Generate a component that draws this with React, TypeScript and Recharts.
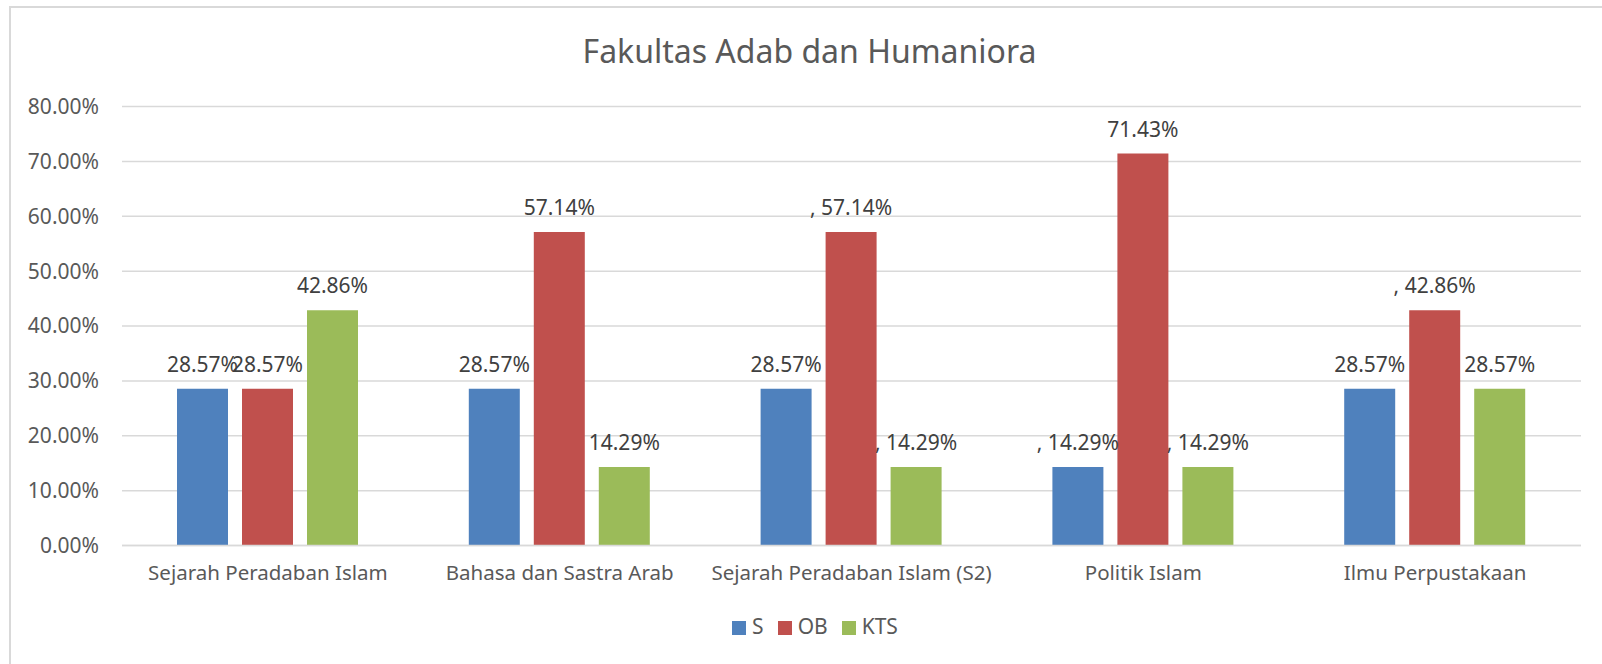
import React from 'react';
import { BarChart, Bar, XAxis, YAxis, CartesianGrid, Legend, LabelList } from 'recharts';

const categories = [
    'Sejarah Peradaban Islam',
    'Bahasa dan Sastra Arab',
    'Sejarah Peradaban Islam (S2)',
    'Politik Islam',
    'Ilmu Perpustakaan',
];

const sValues = [0.2857, 0.2857, 0.2857, 0.1429, 0.2857];
const obValues = [0.2857, 0.5714, 0.5714, 0.7143, 0.4286];
const ktsValues = [0.4286, 0.1429, 0.1429, 0.1429, 0.2857];

// data labels as shown in the original (some carry a stray ", " prefix)
const sLabels = ['28.57%', '28.57%', '28.57%', ', 14.29%', '28.57%'];
const obLabels = ['28.57%', '57.14%', ', 57.14%', '71.43%', ', 42.86%'];
const ktsLabels = ['42.86%', '14.29%', ', 14.29%', ', 14.29%', '28.57%'];

const seriesOrder = ['S', 'OB', 'KTS'];
const yTicks = [0, 0.1, 0.2, 0.3, 0.4, 0.5, 0.6, 0.7, 0.8];
const edgeTicks = [0, 1, 2, 3, 4, 5];

const data = categories.map((name, i) => ({
    name,
    S: sValues[i],
    OB: obValues[i],
    KTS: ktsValues[i],
    sLabel: sLabels[i],
    obLabel: obLabels[i],
    ktsLabel: ktsLabels[i],
    edge: i,
}));

const FONT = '"Noto Sans", "Open Sans", sans-serif';
const GRID = '#d9d9d9';

// plain <text> so the ", " prefix is not wrapped onto its own line
const BarLabel = (props: any) => {
    const { x, y, width, value } = props;
    return (
        <text
            x={Number(x) + Number(width) / 2}
            y={Number(y) - 17}
            textAnchor="middle"
            fontSize={21}
            fill="#404040"
            fontFamily={FONT}
        >
            {value}
        </text>
    );
};

export default function App() {
    return (
        <div style={{ position: 'absolute', left: 0, top: 0, width: 1602, height: 664, background: '#fff', overflow: 'hidden' }}>
            {/* chart frame, right and bottom edges fall outside the picture */}
            <div style={{ position: 'absolute', left: 9, top: 6, width: 1700, height: 800, border: `2px solid ${GRID}` }} />

            <div style={{ position: 'absolute', left: 0, top: 30, width: 1619, textAlign: 'center', fontFamily: FONT, fontSize: 32, color: '#595959', lineHeight: '42px' }}>
                Fakultas Adab dan Humaniora
            </div>

            <div style={{ position: 'absolute', left: 0, top: 0 }}>
                <BarChart
                    width={1602}
                    height={664}
                    data={data}
                    margin={{ top: 106.5, right: 21, left: 10, bottom: 88.5 }}
                    barGap={14}
                    barSize={51}
                >
                    <CartesianGrid stroke={GRID} vertical={false} strokeWidth={1.5} />
                    {/* boundary tick marks between categories */}
                    <XAxis
                        xAxisId="edge"
                        type="number"
                        dataKey="edge"
                        domain={[0, 5]}
                        ticks={edgeTicks}
                        tick={false}
                        axisLine={false}
                        tickLine={{ stroke: GRID, strokeWidth: 1.5 }}
                        tickSize={7}
                        height={0}
                        allowDataOverflow
                    />
                    <XAxis
                        xAxisId="cat"
                        dataKey="name"
                        axisLine={{ stroke: GRID, strokeWidth: 1.5 }}
                        tickLine={false}
                        tickSize={0}
                        tickMargin={20}
                        height={30}
                        interval={0}
                        tick={{ fontSize: 20.5, fill: '#595959', fontFamily: FONT }}
                    />
                    <YAxis
                        domain={[0, 0.8]}
                        ticks={yTicks}
                        width={112}
                        axisLine={false}
                        tickLine={false}
                        tickSize={0}
                        tickMargin={23}
                        tickFormatter={(v: number) => (v * 100).toFixed(2) + '%'}
                        tick={{ fontSize: 21, fill: '#595959', fontFamily: FONT }}
                    />
                    <Legend
                        verticalAlign="middle"
                        align="center"
                        layout="horizontal"
                        iconType="square"
                        iconSize={14}
                        itemSorter={(item: any) => seriesOrder.indexOf(String(item.value))}
                        wrapperStyle={{ top: 612, left: 0, width: 1644, fontFamily: FONT, fontSize: 21 }}
                        formatter={(value: string) => (
                            <span style={{ color: '#595959', marginLeft: 2, marginRight: 4 }}>{value}</span>
                        )}
                    />
                    <Bar xAxisId="cat" dataKey="S" name="S" fill="#4F81BD" isAnimationActive={false}>
                        <LabelList dataKey="sLabel" content={BarLabel} />
                    </Bar>
                    <Bar xAxisId="cat" dataKey="OB" name="OB" fill="#C0504D" isAnimationActive={false}>
                        <LabelList dataKey="obLabel" content={BarLabel} />
                    </Bar>
                    <Bar xAxisId="cat" dataKey="KTS" name="KTS" fill="#9BBB59" isAnimationActive={false}>
                        <LabelList dataKey="ktsLabel" content={BarLabel} />
                    </Bar>
                </BarChart>
            </div>
        </div>
    );
}
